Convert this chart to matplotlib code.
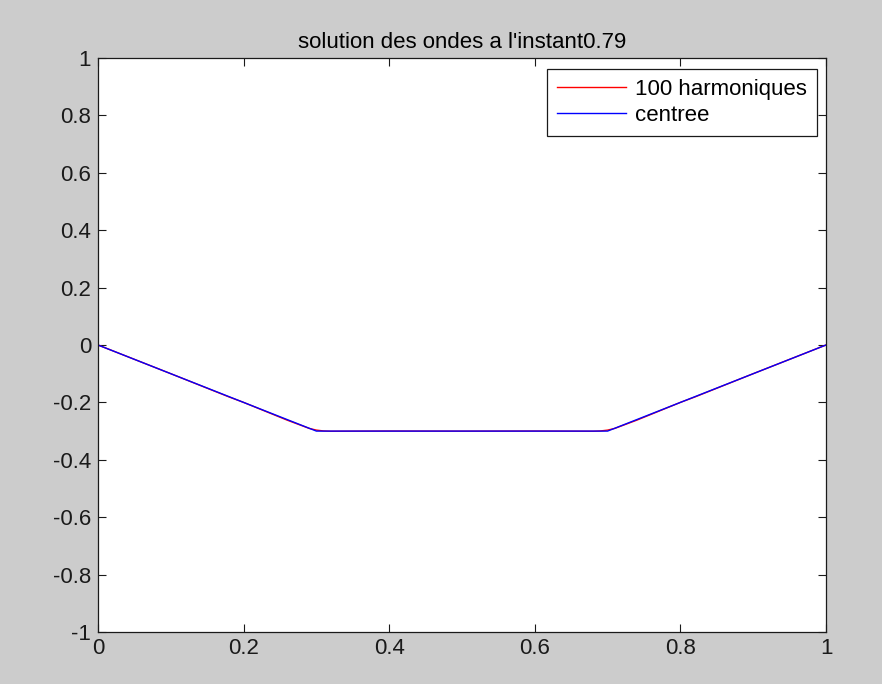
import matplotlib
matplotlib.use("Agg")
import matplotlib.pyplot as plt

plt.rcParams['font.family'] = ['Liberation Sans', 'DejaVu Sans']

# "centre" (exact solution) points
x_centre = [0.0, 0.3, 0.7, 1.0]
y_centre = [0.0, -0.3, -0.3, 0.0]

# 100 harmonics (Fourier series) sampled points, slightly rounded at corners
x_harm = [0.0, 0.1, 0.18, 0.2, 0.26, 0.28, 0.29, 0.3, 0.31, 0.32, 0.4, 0.5,
          0.6, 0.68, 0.69, 0.7, 0.71, 0.72, 0.74, 0.8, 0.82, 0.9, 1.0]
y_harm = [0.0, -0.1, -0.181, -0.2, -0.262, -0.281, -0.2905, -0.2965, -0.2995, -0.3005, -0.2998, -0.3002,
          -0.2998, -0.3005, -0.2995, -0.2965, -0.2905, -0.281, -0.262, -0.2, -0.181, -0.1, 0.0]

xticks = [0, 0.2, 0.4, 0.6, 0.8, 1]
xticklabels = ['0', '0.2', '0.4', '0.6', '0.8', '1']
yticks = [-1, -0.8, -0.6, -0.4, -0.2, 0, 0.2, 0.4, 0.6, 0.8, 1]
yticklabels = ['-1', '-0.8', '-0.6', '-0.4', '-0.2', '0', '0.2', '0.4', '0.6', '0.8', '1']

fig = plt.figure(figsize=(8.82, 6.84), dpi=100, facecolor='#cccccc')
ax = fig.add_axes([98/882, 1-632/684, (826-98)/882, (632-58)/684])
ax.set_facecolor('white')

ax.plot(x_harm, y_harm, color='red', lw=1.0, label='100 harmoniques')
ax.plot(x_centre, y_centre, color='blue', lw=1.0, label='centree')

ax.set_xlim(0, 1)
ax.set_ylim(-1, 1)
ax.set_xticks(xticks)
ax.set_xticklabels(xticklabels)
ax.set_yticks(yticks)
ax.set_yticklabels(yticklabels)
ax.tick_params(direction='in', top=True, right=True, length=6, width=0.8,
               labelsize=16, colors='#1a1a1a', pad=5)
ax.tick_params(axis='x', pad=4)
for s in ax.spines.values():
    s.set_linewidth(0.9)
    s.set_color('#1a1a1a')

ax.set_title("solution des ondes a l'instant0.79", fontsize=16, pad=7)

leg = ax.legend(loc='upper right', bbox_to_anchor=(817/882, 1-69/684),
                bbox_transform=fig.transFigure, fancybox=False, framealpha=1,
                edgecolor='#1a1a1a', fontsize=16, handlelength=3.1,
                borderpad=0.45, labelspacing=0.22, handletextpad=0.4,
                borderaxespad=0)
leg.get_frame().set_linewidth(0.9)

fig.savefig('out.png', dpi=100, facecolor=fig.get_facecolor())
